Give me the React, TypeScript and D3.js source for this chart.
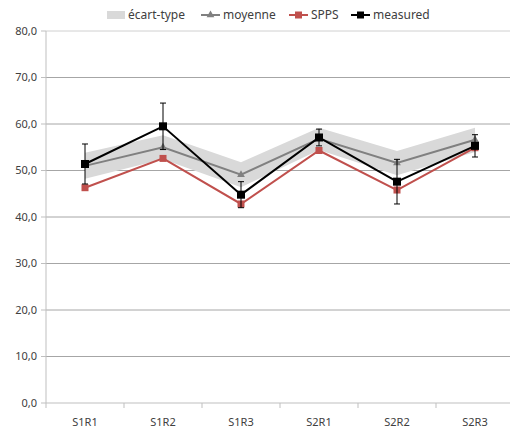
import React from 'react'
import * as d3 from 'd3'

const categories = ['S1R1', 'S1R2', 'S1R3', 'S2R1', 'S2R2', 'S2R3']
const moyenne = [51.0, 55.0, 49.1, 56.8, 51.6, 56.6]
const ecartType = [2.8, 2.6, 2.7, 2.4, 2.6, 2.6]
const spps = [46.3, 52.6, 42.8, 54.3, 45.8, 54.9]
const measured = [51.4, 59.5, 44.8, 57.1, 47.6, 55.3]
const measuredErr = [4.3, 5.0, 2.8, 1.8, 4.8, 2.4]
const yTicks = [0, 10, 20, 30, 40, 50, 60, 70, 80]

const W = 510
const H = 429
const left = 46
const right = 514
const top = 31
const bottom = 403
const font = "'Noto Sans', 'Open Sans', sans-serif"

export default function App() {
	const x = d3.scaleBand<string>().domain(categories).range([left, right])
	const y = d3.scaleLinear().domain([0, 80]).range([bottom, top])
	const cx = (c: string) => (x(c) as number) + x.bandwidth() / 2

	const band = d3.area<number>()
		.x((_, i) => cx(categories[i]))
		.y0((d, i) => y(d - ecartType[i]))
		.y1((d, i) => y(d + ecartType[i]))
	const line = d3.line<number>().x((_, i) => cx(categories[i])).y(d => y(d))

	const tri = d3.symbol().type(d3.symbolTriangle).size(26)()
	const fmt = (v: number) => v.toFixed(1).replace('.', ',')

	const legend = [
		{label: 'écart-type', x: 107, kind: 'band'},
		{label: 'moyenne', x: 201, kind: 'tri', color: '#808080'},
		{label: 'SPPS', x: 289, kind: 'sq', color: '#c0504d'},
		{label: 'measured', x: 351, kind: 'sq', color: '#000'},
	]

	return (
		<svg width={W} height={H} style={{position: 'absolute', left: 0, top: 0}} fontFamily={font}>
			<rect width={W} height={H} fill="#fff" />
			{/* grid */}
			{yTicks.map(t => (
				<line key={`g-${t}`} x1={left} x2={right} y1={y(t)} y2={y(t)}
					stroke={t === 80 ? '#d0d0d0' : t === 0 ? '#bfbfbf' : '#a6a6a6'} strokeWidth={1} />
			))}
			<line x1={left} x2={left} y1={top} y2={bottom} stroke="#bfbfbf" />
			{yTicks.map(t => (
				<g key={`yt-${t}`}>
					<line x1={left - 5} x2={left} y1={y(t)} y2={y(t)} stroke="#bfbfbf" />
					<text x={37} y={y(t)} dy="0.35em" textAnchor="end" fontSize={11} fill="#404040">{fmt(t)}</text>
				</g>
			))}
			{d3.range(categories.length + 1).map(i => (
				<line key={`xt-${i}`} x1={left + i * x.bandwidth()} x2={left + i * x.bandwidth()}
					y1={bottom} y2={bottom + 5} stroke="#bfbfbf" />
			))}
			{categories.map(c => (
				<text key={c} x={cx(c)} y={422} dy="0.35em" textAnchor="middle" fontSize={11} fill="#404040">{c}</text>
			))}

			{/* écart-type band */}
			<path d={band(moyenne) as string} fill="#d9d9d9" />

			{/* moyenne */}
			<path d={line(moyenne) as string} fill="none" stroke="#808080" strokeWidth={2} />
			{moyenne.map((v, i) => (
				<path key={`m-${i}`} d={tri as string} transform={`translate(${cx(categories[i])},${y(v)})`} fill="#808080" />
			))}

			{/* SPPS */}
			<path d={line(spps) as string} fill="none" stroke="#c0504d" strokeWidth={2} />
			{spps.map((v, i) => (
				<rect key={`s-${i}`} x={cx(categories[i]) - 3.5} y={y(v) - 3.5} width={7} height={7} fill="#c0504d" />
			))}

			{/* measured */}
			{measured.map((v, i) => {
				const px = cx(categories[i])
				return (
					<g key={`e-${i}`} stroke="#000" strokeWidth={1}>
						<line x1={px} x2={px} y1={y(v + measuredErr[i])} y2={y(v - measuredErr[i])} />
						<line x1={px - 3} x2={px + 3} y1={y(v + measuredErr[i])} y2={y(v + measuredErr[i])} />
						<line x1={px - 3} x2={px + 3} y1={y(v - measuredErr[i])} y2={y(v - measuredErr[i])} />
					</g>
				)
			})}
			<path d={line(measured) as string} fill="none" stroke="#000" strokeWidth={2} />
			{measured.map((v, i) => (
				<rect key={`ms-${i}`} x={cx(categories[i]) - 4} y={y(v) - 4} width={8} height={8} fill="#000" />
			))}

			{/* legend */}
			{legend.map(l => (
				<g key={l.label}>
					{l.kind === 'band'
						? <rect x={l.x} y={11} width={18} height={8} fill="#d9d9d9" />
						: <g>
							<line x1={l.x} x2={l.x + 19} y1={15} y2={15} stroke={l.color} strokeWidth={2} />
							{l.kind === 'tri'
								? <path d={tri as string} transform={`translate(${l.x + 9.5},15)`} fill={l.color} />
								: <rect x={l.x + 6} y={11.5} width={7} height={7} fill={l.color} />}
						</g>}
					<text x={l.x + (l.kind === 'band' ? 21 : 22)} y={15} dy="0.35em" fontSize={12} fill="#404040">{l.label}</text>
				</g>
			))}
		</svg>
	)
}
